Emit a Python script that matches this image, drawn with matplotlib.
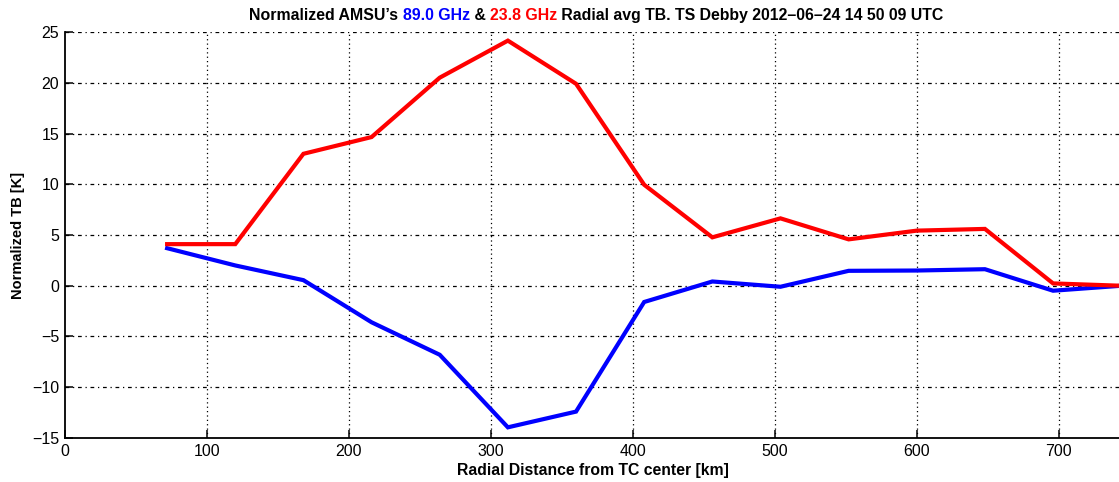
import matplotlib
matplotlib.use("Agg")
import matplotlib.pyplot as plt
from matplotlib.offsetbox import TextArea, HPacker, AnchoredOffsetbox

plt.rcParams["font.family"] = ["Liberation Sans", "DejaVu Sans"]

# radial bins (km) and normalized brightness temperatures (K)
radius_km = [72, 120, 168, 216, 264, 312, 360, 408, 456, 504, 552, 600, 648, 696, 744]
tb_89 = [3.7, 2.0, 0.55, -3.6, -6.8, -13.95, -12.4, -1.6, 0.42, -0.1, 1.47, 1.5, 1.63, -0.49, 0.0]
tb_23 = [4.1, 4.1, 13.0, 14.65, 20.5, 24.15, 19.9, 9.95, 4.77, 6.64, 4.57, 5.43, 5.6, 0.23, 0.0]

xticks = [0, 100, 200, 300, 400, 500, 600, 700]
yticks = [-15, -10, -5, 0, 5, 10, 15, 20, 25]

fig = plt.figure(figsize=(11.19, 4.82), dpi=100)
ax = fig.add_axes([0.058, 0.0913, 0.944, 0.8423])

ax.plot(radius_km, tb_89, color=(0, 0, 1), lw=3, solid_joinstyle="miter", zorder=3)
ax.plot(radius_km, tb_23, color=(1, 0, 0), lw=3, solid_joinstyle="miter", zorder=3)

ax.set_xlim(0, 744)
ax.set_ylim(-15, 25)
ax.set_xticks(xticks)
ax.set_yticks(yticks)
ax.set_yticklabels([str(v).replace("-", "\u2212") for v in yticks])

# grid: dash-dot rows, dotted columns
for y in yticks[1:]:
    ax.axhline(y, color="black", lw=0.9, ls=(0, (3, 3, 1, 3)), zorder=1)
for x in xticks[1:]:
    ax.axvline(x, color="black", lw=0.9, ls=(0, (1, 2.5)), zorder=1)

for s in ["top", "right"]:
    ax.spines[s].set_visible(False)
for s in ["left", "bottom"]:
    ax.spines[s].set_linewidth(1.3)

ax.tick_params(direction="in", length=6, width=1.1, labelsize=11.5, pad=4)

ax.set_xlabel("Radial Distance from TC center [km]", fontsize=11.3, fontweight="bold", labelpad=3)
ax.set_ylabel("Normalized TB [K]", fontsize=10.5, fontweight="bold", labelpad=5)

# multi-coloured title
parts = [("Normalized AMSU\u2019s ", "black"), ("89.0 GHz", "blue"), (" & ", "black"),
         ("23.8 GHz", "red"), (" Radial avg TB. TS Debby 2012\u201306\u201324 14 50 09 UTC", "black")]
boxes = [TextArea(t, textprops=dict(color=c, fontsize=11.4, fontweight="bold")) for t, c in parts]
packed = HPacker(children=boxes, align="baseline", pad=0, sep=0)
title = AnchoredOffsetbox(loc="lower center", child=packed, pad=0, frameon=False,
                          bbox_to_anchor=(0.533, 0.952), bbox_transform=fig.transFigure,
                          borderpad=0)
fig.add_artist(title)

fig.savefig("out.png", dpi=100)
